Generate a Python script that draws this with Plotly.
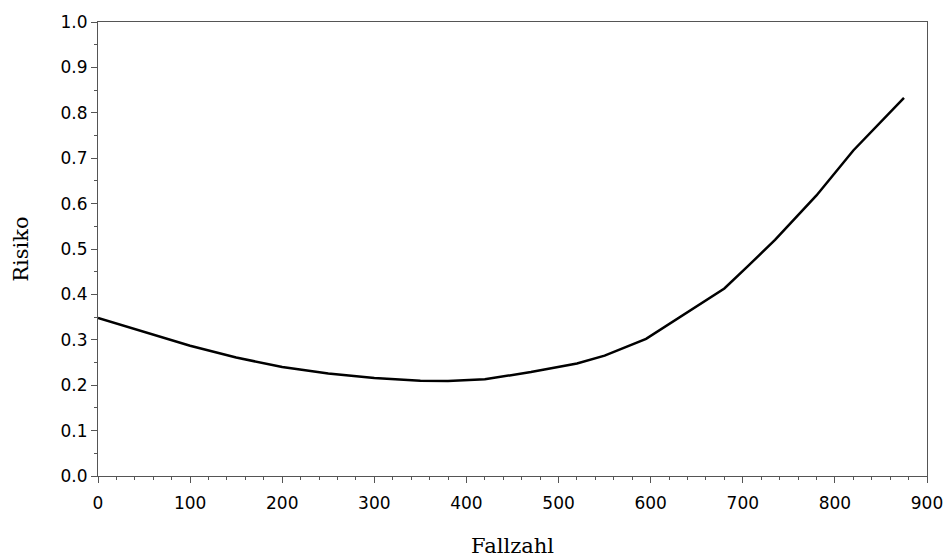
import plotly.graph_objects as go

fallzahl = [0, 50, 100, 150, 200, 250, 300, 350, 380, 420, 470, 520, 550, 595, 680, 705, 735, 780, 820, 875]
risiko = [0.348, 0.318, 0.287, 0.261, 0.240, 0.226, 0.216, 0.210, 0.209, 0.213, 0.229, 0.248, 0.265, 0.302, 0.413, 0.461, 0.520, 0.618, 0.717, 0.833]

x_ticks = [0, 100, 200, 300, 400, 500, 600, 700, 800, 900]
y_ticks = [0.0, 0.1, 0.2, 0.3, 0.4, 0.5, 0.6, 0.7, 0.8, 0.9, 1.0]

fig = go.Figure()
fig.add_trace(go.Scatter(x=fallzahl, y=risiko, mode="lines",
                         line=dict(color="black", width=2.5), showlegend=False))

tickfont = dict(family="DejaVu Sans, Arial, sans-serif", size=17, color="black")
titlefont = dict(family="DejaVu Serif, Times New Roman, serif", size=21, color="black")

fig.update_layout(
    width=946, height=558,
    margin=dict(l=98, r=19, t=22, b=82),
    paper_bgcolor="white", plot_bgcolor="white",
    xaxis=dict(range=[0, 900], tickvals=x_ticks, ticktext=[str(v) for v in x_ticks],
               ticks="outside", ticklen=6, tickcolor="#555", tickwidth=1,
               showline=True, linecolor="#555", linewidth=1, mirror=True,
               showgrid=False, zeroline=False, tickfont=tickfont, automargin=False,
               ticklabelstandoff=6, ticklabeloverflow="allow",
               minor=dict(dtick=20, ticks="outside", ticklen=3, tickcolor="#555", showgrid=False),
               title=dict(text="Fallzahl", font=titlefont, standoff=43)),
    yaxis=dict(range=[0, 1.0], tickvals=y_ticks, ticktext=[f"{v:.1f}" for v in y_ticks],
               ticks="outside", ticklen=6, tickcolor="#555", tickwidth=1,
               showline=True, linecolor="#555", linewidth=1, mirror=True,
               showgrid=False, zeroline=False, tickfont=tickfont, automargin=False,
               ticklabelstandoff=0, ticklabeloverflow="allow",
               minor=dict(dtick=0.05, ticks="outside", ticklen=3, tickcolor="#555", showgrid=False),
               title=dict(text="Risiko", font=titlefont, standoff=26)),
)

# remove the page's default 8px body margin so the figure fills the window
fig.write_html("out.html", config={"displayModeBar": False},
               post_script="document.body.style.margin='0';")
